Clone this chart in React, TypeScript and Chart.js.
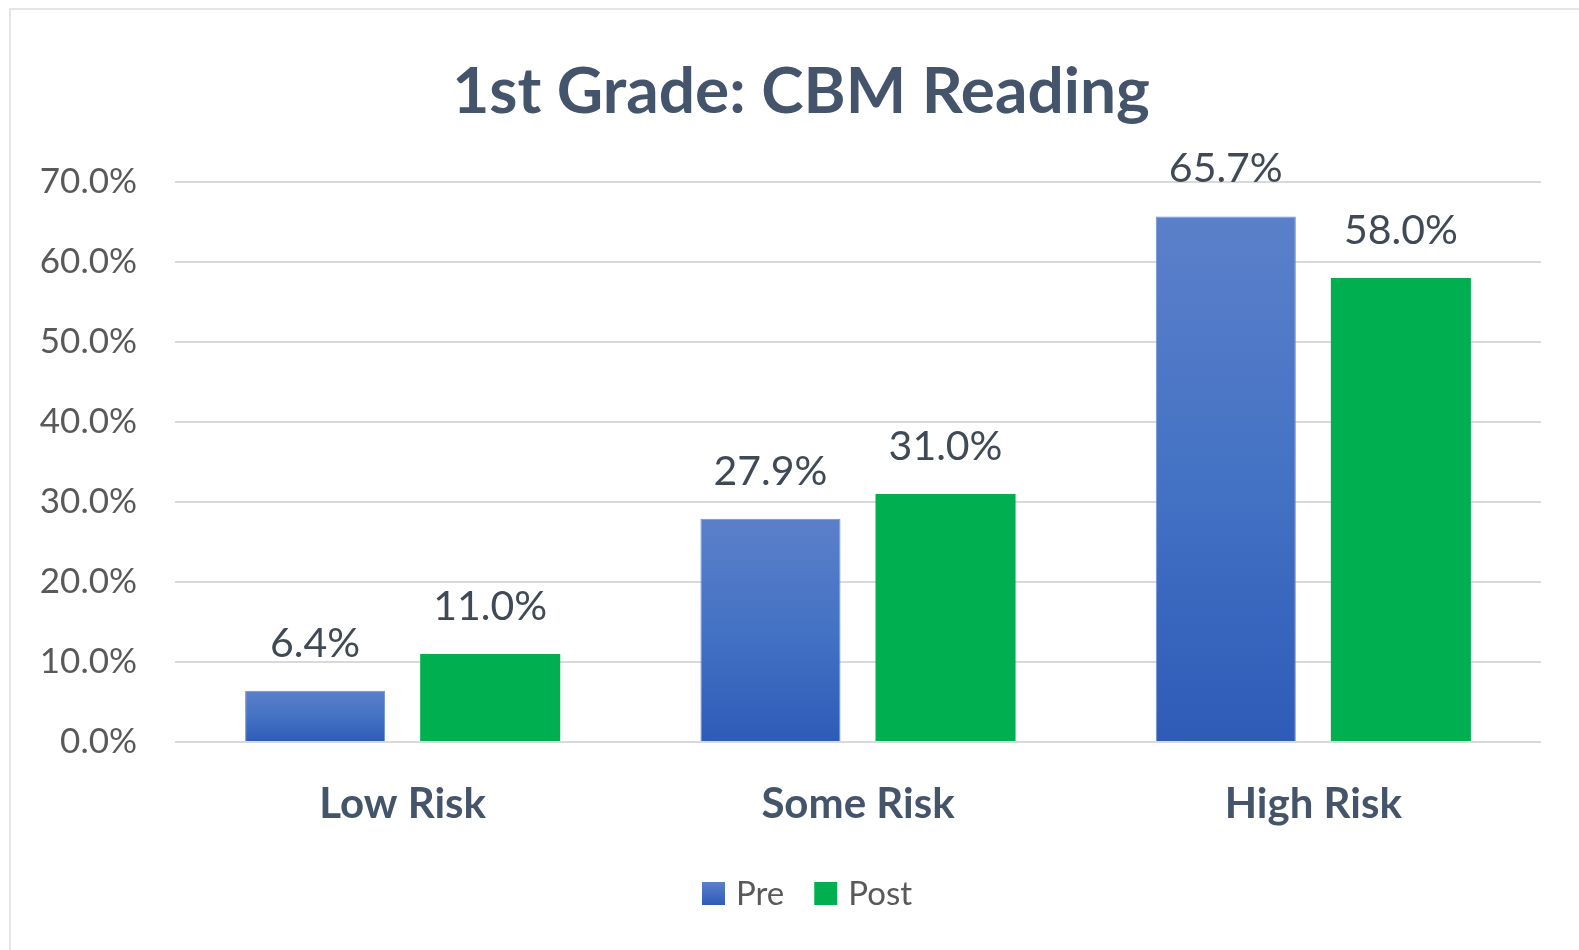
import React, { useEffect, useRef } from "react";
import { Chart, registerables } from "chart.js";

Chart.register(...registerables);

const categories = ["Low Risk", "Some Risk", "High Risk"];
const preValues = [6.4, 27.9, 65.7];
const postValues = [11.0, 31.0, 58.0];
const seriesNames = ["Pre", "Post"];
const titleText = "1st Grade: CBM Reading";
const yMax = 70;
const yStep = 10;

const FONT = "Lato, 'Open Sans', sans-serif";
const PRE_COLOR = "#4472c4";
const POST_COLOR = "#00b050";

function preGradient(ctx: any) {
  const chart = ctx.chart;
  const ys = chart.scales && chart.scales.y;
  if (!chart.chartArea || !ys || ctx.type !== "data") return PRE_COLOR;
  const v = ctx.raw as number;
  const top = ys.getPixelForValue(v);
  const bottom = ys.getPixelForValue(0);
  if (!isFinite(top) || !isFinite(bottom) || top === bottom) return PRE_COLOR;
  const g = chart.ctx.createLinearGradient(0, top, 0, bottom);
  g.addColorStop(0, "#5b80ca");
  g.addColorStop(0.5, "#4472c4");
  g.addColorStop(1, "#2e5bb7");
  return g;
}

const titlePlugin = {
  id: "customTitle",
  afterDraw(chart: any) {
    const { ctx } = chart;
    ctx.save();
    ctx.font = `bold 64px ${FONT}`;
    ctx.fillStyle = "#44546a";
    ctx.textAlign = "center";
    ctx.textBaseline = "middle";
    ctx.fillText(titleText, 801, 92);
    ctx.restore();
  },
};

const labelPlugin = {
  id: "barValueLabels",
  afterDatasetsDraw(chart: any) {
    const { ctx } = chart;
    ctx.save();
    ctx.font = `41px ${FONT}`;
    ctx.fillStyle = "#404a56";
    ctx.textAlign = "center";
    ctx.textBaseline = "alphabetic";
    chart.data.datasets.forEach((ds: any, di: number) => {
      const meta = chart.getDatasetMeta(di);
      meta.data.forEach((bar: any, i: number) => {
        const v = ds.data[i] as number;
        ctx.fillText(v.toFixed(1) + "%", bar.x, bar.y - 34);
      });
    });
    ctx.restore();
  },
};

const legendPlugin = {
  id: "customLegend",
  afterDraw(chart: any) {
    const { ctx } = chart;
    ctx.save();
    ctx.font = `33px ${FONT}`;
    ctx.textBaseline = "alphabetic";
    ctx.textAlign = "left";
    const box = 23;
    const gapText = 11;
    const gapItem = 30;
    const colors = [PRE_COLOR, POST_COLOR];
    const names = chart.data.datasets.map((d: any) => d.label);
    const widths = names.map((n: string) => ctx.measureText(n).width);
    let total = 0;
    widths.forEach((w: number, i: number) => {
      total += box + gapText + w + (i < widths.length - 1 ? gapItem : 0);
    });
    const centerX = 807;
    let x = centerX - total / 2;
    const boxTop = 882;
    const baseline = 905;
    names.forEach((n: string, i: number) => {
      if (i === 0) {
        const g = ctx.createLinearGradient(0, boxTop, 0, boxTop + box);
        g.addColorStop(0, "#5b80ca");
        g.addColorStop(1, "#2e5bb7");
        ctx.fillStyle = g;
      } else {
        ctx.fillStyle = colors[i];
      }
      ctx.fillRect(x, boxTop, box, box);
      x += box + gapText;
      ctx.fillStyle = "#595959";
      ctx.fillText(n, x, baseline);
      x += widths[i] + gapItem;
    });
    ctx.restore();
  },
};

export default function App() {
  const ref = useRef<HTMLCanvasElement | null>(null);

  useEffect(() => {
    if (!ref.current) return;
    const chart = new Chart(ref.current, {
      type: "bar",
      data: {
        labels: categories,
        datasets: [
          {
            label: seriesNames[0],
            data: preValues,
            backgroundColor: preGradient as any,
            borderColor: "#6a8fd6",
            borderWidth: 1,
            categoryPercentage: 0.769,
            barPercentage: 0.8,
          },
          {
            label: seriesNames[1],
            data: postValues,
            backgroundColor: POST_COLOR,
            borderColor: POST_COLOR,
            borderWidth: 0,
            categoryPercentage: 0.769,
            barPercentage: 0.8,
          },
        ],
      },
      options: {
        animation: false,
        responsive: false,
        maintainAspectRatio: false,
        devicePixelRatio: 1,
        layout: { padding: { left: 20, right: 59, top: 182, bottom: 98 } },
        plugins: {
          title: { display: false },
          legend: { display: false },
          tooltip: { enabled: false },
        },
        scales: {
          x: {
            grid: { display: false, drawTicks: false },
            border: { display: false },
            ticks: {
              color: "#44546a",
              font: { family: FONT, size: 42, weight: "bold" },
              padding: 37,
            },
            afterFit: (s: any) => {
              s.height = 110;
            },
          },
          y: {
            min: 0,
            max: yMax,
            grid: { color: "#d9d9d9", lineWidth: 2, drawTicks: false },
            border: { display: false },
            ticks: {
              stepSize: yStep,
              color: "#595959",
              font: { family: FONT, size: 35 },
              padding: 38,
              callback: (v: any) => Number(v).toFixed(1) + "%",
            },
            afterFit: (s: any) => {
              s.width = 155;
            },
          },
        },
      },
      plugins: [labelPlugin, legendPlugin, titlePlugin],
    });
    return () => chart.destroy();
  }, []);

  return (
    <div
      style={{
        position: "fixed",
        left: 0,
        top: 0,
        width: 1579,
        height: 950,
        overflow: "hidden",
        background: "#ffffff",
      }}
    >
      <div
        style={{
          position: "absolute",
          left: 9,
          top: 8,
          width: 1600,
          height: 960,
          border: "2px solid #e3e5e9",
          boxSizing: "border-box",
        }}
      />
      <canvas
        ref={ref}
        width={1600}
        height={950}
        style={{ position: "absolute", left: 0, top: 0, width: 1600, height: 950 }}
      />
    </div>
  );
}
